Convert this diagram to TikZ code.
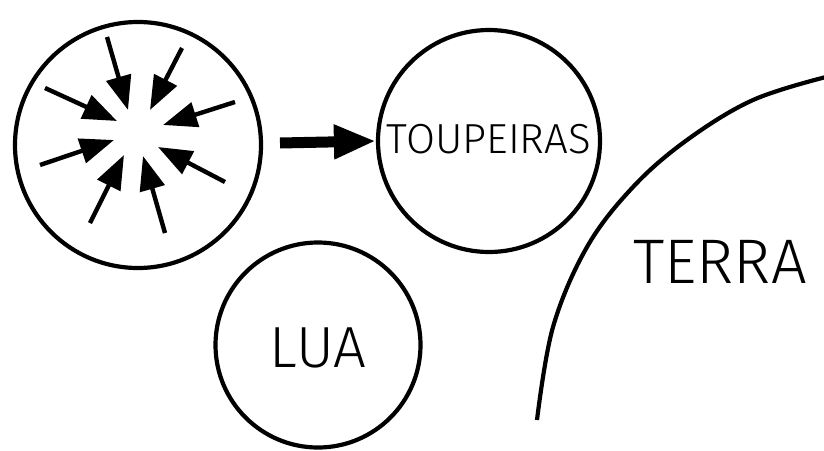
\documentclass[tikz,border=0pt]{standalone}
\usepackage{fontspec}
\setmainfont{Fira Sans}[UprightFont=* Light]
\usetikzlibrary{arrows.meta}
\tikzset{
  ring/.style={draw=black, line width=4.2pt, circle, inner sep=0pt},
  lbl/.style={font=\fontsize{#1}{#1}\selectfont, inner sep=0pt},
  inarrow/.style={line width=4.4pt, -{Triangle[length=34pt,width=25pt]}},
  bigarrow/.style={line width=11pt, -{Triangle[length=42pt,width=32pt]}},
}
\begin{document}
\begin{tikzpicture}[x=1pt,y=-1pt]
\useasboundingbox (0,0) rectangle (824,450);
\fill[white] (0,0) rectangle (824,450);
% circles
\node[ring, minimum size=246pt] (burst) at (138,145) {};
\node[ring, minimum size=222pt] (toup) at (489,141) {};
\node[ring, minimum size=205pt] (lua) at (318,345) {};
% labels
\node[lbl=42pt] (tt) at (489,139) {TOUPEIRAS};
\node[lbl=58pt] (lt) at (318,348) {LUA};
\node[lbl=63pt] (et) at (720,262) {TERRA};
% inward arrows
\coordinate (a1s) at (107,37);  \coordinate (a1e) at (128,110);
\coordinate (a2s) at (182,48);  \coordinate (a2e) at (150,110);
\coordinate (a3s) at (45,88);   \coordinate (a3e) at (117,121);
\coordinate (a4s) at (235,102); \coordinate (a4e) at (163,125);
\coordinate (a5s) at (40,165);  \coordinate (a5e) at (114,140);
\coordinate (a6s) at (225,182); \coordinate (a6e) at (158,147);
\coordinate (a7s) at (90,223);  \coordinate (a7e) at (124,155);
\coordinate (a8s) at (165,233); \coordinate (a8e) at (143,156);
\foreach \i in {1,...,8} {\draw[inarrow] (a\i s) -- (a\i e);}
% big arrow
\coordinate (bs) at (280,143);
\draw[bigarrow] (bs) -- (toup.west);
% Earth curve
\draw[line width=4.2pt] plot[smooth, tension=0.6] coordinates {(537,420) (553,327) (587,247) (633,187) (687,140) (753,100) (826,77)};
\end{tikzpicture}
\end{document}
